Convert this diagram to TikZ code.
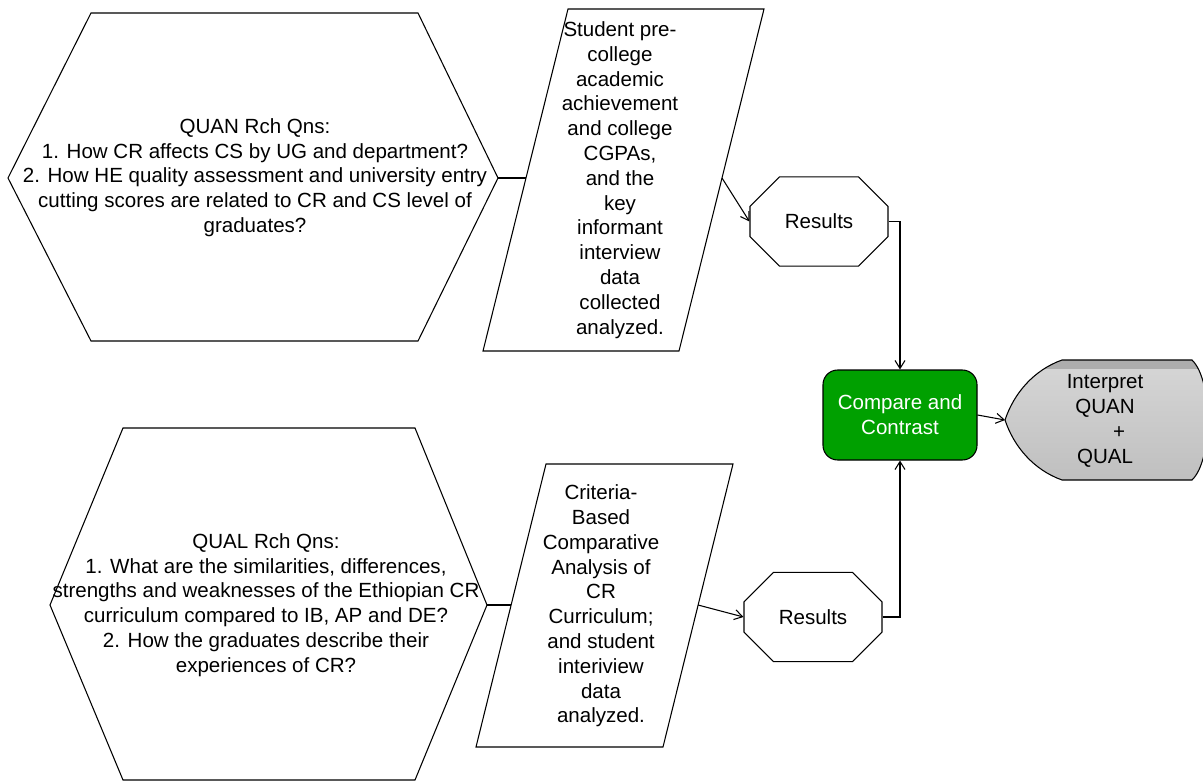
\documentclass[tikz,border=0pt]{standalone}
\usepackage{fontspec}
\setmainfont{Liberation Sans}
\usetikzlibrary{arrows.meta,shapes.misc}

\definecolor{cmpgreen}{RGB}{0,160,0}

\tikzset{
  txt/.style={align=center,font=\fontsize{15.4}{18.6}\selectfont,inner sep=0pt},
  outline/.style={line width=0.8pt},
  resbox/.style={chamfered rectangle,chamfered rectangle xsep=17pt,chamfered rectangle ysep=16.5pt,
    draw,outline,minimum width=103.5pt,minimum height=67pt,txt},
  link/.style={outline,-{Straight Barb[length=6pt,width=7.5pt]}},
}

\begin{document}
\begin{tikzpicture}[x=0.75pt,y=-0.75pt]
  \useasboundingbox (0,0) rectangle (1203,781);

  % QUAN branch
  \draw[outline] (8,178) -- (91,13) -- (418,13) -- (498,178) -- (418,341) -- (91,341) -- cycle;
  \node[txt] (quan) at (255,177.5) {QUAN Rch Qns:\\ 1. How CR affects CS by UG and department?\\2. How HE quality assessment and university entry\\cutting scores are related to CR and CS level of\\graduates?};
  \coordinate (quanR) at (498,178);
  \draw[outline] (568,9) -- (764,9) -- (679,351) -- (483,351) -- cycle;
  \node[txt] (quandata) at (620,180) {Student pre-\\college\\academic\\achievement\\and college\\CGPAs,\\and the\\key\\informant\\interview\\data\\collected\\analyzed.};
  \coordinate (quandataL) at (526,178);
  \coordinate (quandataR) at (722,178);
  \node[resbox] (quanres) at (819,221.5) {Results};

  % QUAL branch
  \draw[outline] (50,605) -- (123,428) -- (415,428) -- (487,605) -- (415,780) -- (123,780) -- cycle;
  \node[txt] (qual) at (266,605) {QUAL Rch Qns:\\1. What are the similarities, differences,\\strengths and weaknesses of the Ethiopian CR\\curriculum compared to IB, AP and DE?\\2. How the graduates describe their\\experiences of CR?};
  \coordinate (qualR) at (487,605);
  \draw[outline] (546,464) -- (733,464) -- (663,747) -- (476,747) -- cycle;
  \node[txt] (qualdata) at (601,606) {Criteria-\\Based\\Comparative\\Analysis of\\CR\\Curriculum;\\and student\\interiview\\data\\analyzed.};
  \coordinate (qualdataL) at (511,605);
  \coordinate (qualdataR) at (698,605);
  \node[resbox] (qualres) at (813,617) {Results};

  % merge
  \node[txt,draw,outline,rounded corners=11pt,fill=cmpgreen,text=white,
    minimum width=115.5pt,minimum height=67.5pt] (compare) at (900,415) {Compare and\\Contrast};
  \path[draw,outline,top color=black!16,bottom color=black!25,
    path picture={\fill[black!32] (path picture bounding box.north west) rectangle ([yshift=-6.5pt]path picture bounding box.north east);}]
    (1005,420) .. controls (1014,393) and (1034,370) .. (1062,360) -- (1192,360)
    .. controls (1213,380) and (1213,460) .. (1192,480) -- (1062,480)
    .. controls (1034,470) and (1014,447) .. (1005,420) -- cycle;
  \coordinate (interpL) at (1005,420);
  \node[txt] (interp) at (1105,421) {Interpret\\QUAN\\\hspace*{21pt}+\\QUAL};

  % connectors
  \draw[outline] (quanR) -- (quandataL);
  \draw[outline] (qualR) -- (qualdataL);
  \draw[link] (quandataR) -- (quanres.west);
  \draw[link] (qualdataR) -- (qualres.west);
  \draw[link] (quanres.east) -| (compare.north);
  \draw[link] (qualres.east) -| (compare.south);
  \draw[link] (compare.east) -- (interpL);
\end{tikzpicture}
\end{document}
